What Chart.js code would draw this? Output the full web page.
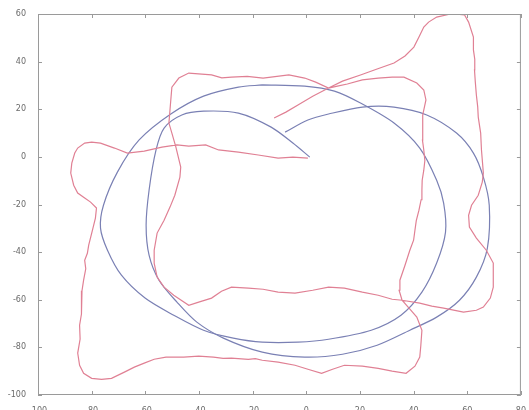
<!DOCTYPE html>
<html>
<head>
<meta charset="utf-8">
<script src="https://cdn.jsdelivr.net/npm/chart.js@4/dist/chart.umd.min.js"></script>
<style>
  html, body { margin: 0; padding: 0; background: #fff; }
  #wrap { width: 529px; height: 410px; }
</style>
</head>
<body>
<div id="wrap"><canvas id="trackChart" width="529" height="410"></canvas></div>
<script>
// axis ticks
const xTicks = [-100, -80, -60, -40, -20, 0, 20, 40, 60, 80];
const yTicks = [-100, -80, -60, -40, -20, 0, 20, 40, 60];

// measured path (red) in four stretches
const redX = [
  // beak + left lobe top
  0.6, -5.0, -10.5, -17.9, -25.3, -32.7, -37.5, -43.8, -48.2, -53.8, -60.4, -66.7, -71.5, -76.7, -80.0, -82.6,
  -85.2, -86.3, -87.4, -87.8, -86.7, -85.2, -82.6, -80.4, -78.2, -78.6, -79.7, -81.1,
  // left side down, outer bottom, up to the crossing
  -81.6, -82.6, -82.2, -83.0, -83.6, -83.7, -83.9, -84.5, -84.3, -85.2, -84.5, -83.0, -80.0, -76.3, -72.6, -67.8,
  -64.1, -60.4, -56.7, -52.3, -45.7, -40.1, -34.6, -31.0, -27.9, -21.6, -19.0, -16.4, -10.5, -4.2, 0.6, 5.7,
  9.8, 14.2, 20.9, 26.8, 32.0, 37.2, 40.5, 42.3, 42.7, 43.1, 41.2, 38.3, 35.7,
  // inner right up, inner bump, top edge, inner left down
  34.6, 34.9, 36.8, 38.6, 40.0, 40.5, 41.0, 42.0, 42.8, 43.1, 43.2, 43.8, 44.2, 43.8, 43.3, 43.4,
  43.4, 44.6, 43.8, 41.2, 36.4, 32.0, 26.8, 20.9, 15.3, 11.6, 8.3, 3.5, -0.6, -6.5, -16.1, -22.0,
  -27.9, -31.5, -35.3, -43.8, -47.5, -50.1, -50.5, -51.2, -50.1, -48.6, -46.8, -47.1, -49.0, -50.8, -53.0, -55.6,
  -56.7, -56.7, -55.6, -53.0, -49.4, -43.8,
  // inner bottom, right lobe, outer right up, top bump, diagonal
  -40.1, -35.3, -31.6, -27.9, -21.6, -16.1, -10.5, -4.2, 2.4, 8.3, 14.2, 20.9, 26.8, 32.0, 35.7, 42.3,
  46.8, 51.2, 58.6, 63.4, 66.0, 68.6, 69.7, 69.7, 69.7, 67.1, 63.4, 60.8, 60.5, 61.6, 64.1, 65.6,
  66.0, 65.3, 65.0, 64.1, 63.9, 63.4, 63.0, 62.7, 62.8, 62.3, 62.3, 60.5, 59.0, 57.1, 53.0, 48.6,
  45.6, 43.8, 42.0, 40.1, 36.8, 32.7, 26.4, 20.2, 13.5, 8.3, 2.4, -3.1, -7.6, -12.0];
const redY = [
  -0.5, -0.1, -0.5, 0.8, 2.0, 2.9, 5.0, 4.5, 5.0, 4.1, 2.4, 1.6, 3.7, 5.8, 6.2, 5.8,
  3.7, 1.6, -2.6, -6.8, -11.9, -15.2, -17.3, -19.0, -21.5, -25.7, -30.8, -37.1,
  -40.5, -43.4, -47.0, -51.8, -56.2, -61.4, -66.0, -70.7, -76.5, -82.4, -87.5, -90.9, -93.0, -93.4, -93.0, -90.4,
  -88.3, -86.6, -85.0, -84.1, -84.1, -83.7, -84.1, -84.6, -84.5, -85.0, -84.7, -85.4, -86.2, -87.5, -89.2, -90.9,
  -89.2, -87.5, -87.9, -88.8, -90.0, -90.9, -87.9, -84.1, -79.1, -72.8, -67.3, -63.5, -60.2,
  -56.0, -51.8, -45.5, -39.2, -35.0, -30.8, -26.8, -22.4, -18.0, -14.0, -9.8, -5.6, -1.5, 2.9, 7.0, 11.3,
  17.6, 23.9, 28.1, 31.0, 33.5, 33.5, 33.1, 32.3, 30.6, 29.7, 28.9, 31.4, 33.1, 34.4, 33.1, 33.8,
  33.5, 33.2, 34.4, 35.2, 33.1, 29.3, 23.9, 14.2, 10.0, 4.1, -4.3, -8.5, -16.1, -21.1, -26.6, -32.0,
  -39.2, -44.6, -50.5, -54.7, -58.1, -62.3,
  -61.0, -59.3, -56.4, -54.7, -55.1, -55.6, -56.8, -57.2, -56.0, -54.7, -55.1, -56.8, -58.1, -59.8, -60.2, -61.4,
  -62.7, -63.5, -65.2, -64.4, -63.1, -59.3, -54.7, -49.7, -44.6, -39.2, -34.1, -29.5, -24.5, -20.3, -16.1, -10.6,
  -6.8, 2.9, 10.0, 16.7, 21.0, 26.0, 31.5, 36.5, 41.0, 44.9, 50.3, 56.6, 59.6, 59.8, 59.8, 58.7,
  56.6, 54.5, 50.3, 46.1, 42.4, 39.4, 36.9, 34.4, 31.8, 28.9, 25.5, 21.8, 18.8, 16.3];

// estimated paths (blue)
const blueAX = [-16.4, -25.3, -38.3, -50.5, -62.3, -70.4, -75.6, -76.7, -74.1, -68.9, -60.1, -49.4, -38.3, -27.2, -16.4,
  -3.1, 8.3, 24.2, 35.3, 43.1, 48.6, 51.9, 51.2, 48.6, 42.3, 32.7, 20.2, 10.5, -0.6, -16.4];
const blueAY = [30.2, 29.3, 25.5, 18.0, 7.1, -6.4, -20.3, -29.9, -39.2, -49.7, -59.3, -66.5, -72.8, -76.1, -77.8,
  -77.8, -76.6, -72.8, -66.5, -56.8, -44.6, -31.6, -19.4, -9.8, 3.7, 14.2, 22.6, 27.6, 29.7, 30.2];
const blueBX = [-7.9, 0.6, 8.3, 20.9, 32.7, 44.9, 56.0, 62.3, 66.0, 68.2, 67.5, 63.4, 57.1, 48.6, 38.6, 26.4, 13.5,
  -0.6, -16.4, -30.9, -40.8, -48.2, -54.9, -58.6, -59.7, -58.6, -56.0, -53.0, -46.4, -38.3, -25.3, -13.1, -5.0, 1.3];
const blueBY = [10.4, 15.5, 18.0, 20.9, 20.9, 17.6, 10.0, 1.6, -8.5, -20.3, -38.3, -50.5, -60.2, -67.3, -72.8, -79.1, -82.9,
  -84.1, -82.0, -76.1, -69.4, -61.0, -51.8, -41.3, -28.7, -14.0, 2.9, 12.1, 17.6, 19.2, 18.4, 12.5, 5.8, -0.1];

const RED = 'rgb(224, 128, 148)';
const BLUE = 'rgb(122, 128, 180)';
const AXIS = '#9a9a9a';

function toPoints(xs, ys) {
    return xs.map((x, i) => ({ x: x, y: ys[i] }));
}

// box round the plot with inward ticks on all four sides
const boxTicks = {
    id: 'boxTicks',
    afterDatasetsDraw(chart) {
        const { ctx, chartArea: a, scales: { x, y } } = chart;
        ctx.save();
        ctx.strokeStyle = AXIS;
        ctx.lineWidth = 1;
        ctx.strokeRect(a.left + 0.5, a.top + 0.5, a.right - a.left - 1, a.bottom - a.top - 1);
        ctx.beginPath();
        xTicks.forEach(v => {
            const px = Math.round(x.getPixelForValue(v)) + 0.5;
            ctx.moveTo(px, a.bottom); ctx.lineTo(px, a.bottom - 4);
            ctx.moveTo(px, a.top); ctx.lineTo(px, a.top + 4);
        });
        yTicks.forEach(v => {
            const py = Math.round(y.getPixelForValue(v)) + 0.5;
            ctx.moveTo(a.left, py); ctx.lineTo(a.left + 4, py);
            ctx.moveTo(a.right, py); ctx.lineTo(a.right - 4, py);
        });
        ctx.stroke();
        ctx.restore();
    }
};

const lineStyle = { showLine: true, pointRadius: 0, borderWidth: 1.2, fill: false };

new Chart(document.getElementById('trackChart'), {
    type: 'scatter',
    data: {
        datasets: [
            { ...lineStyle, label: 'measured', data: toPoints(redX, redY), borderColor: RED, tension: 0 },
            { ...lineStyle, label: 'estimate A', data: toPoints(blueAX, blueAY), borderColor: BLUE, tension: 0.3 },
            { ...lineStyle, label: 'estimate B', data: toPoints(blueBX, blueBY), borderColor: BLUE, tension: 0.3 }
        ]
    },
    options: {
        responsive: false,
        animation: false,
        layout: { padding: { top: 14, right: 4, left: 0, bottom: 0 } },
        plugins: { legend: { display: false }, tooltip: { enabled: false } },
        scales: {
            x: {
                type: 'linear', min: -100, max: 80,
                afterBuildTicks: s => { s.ticks = xTicks.map(v => ({ value: v })); },
                afterFit: s => { s.height = 15; },
                grid: { display: false },
                border: { display: false },
                ticks: { color: '#6a6a6a', padding: 3, font: { family: 'DejaVu Sans', size: 8 }, maxRotation: 0 }
            },
            y: {
                type: 'linear', min: -100, max: 60,
                afterBuildTicks: s => { s.ticks = yTicks.map(v => ({ value: v })); },
                afterFit: s => { s.width = 38; },
                grid: { display: false },
                border: { display: false },
                ticks: { color: '#6a6a6a', padding: 4, font: { family: 'DejaVu Sans', size: 8 } }
            }
        }
    },
    plugins: [boxTicks]
});
</script>
</body>
</html>
